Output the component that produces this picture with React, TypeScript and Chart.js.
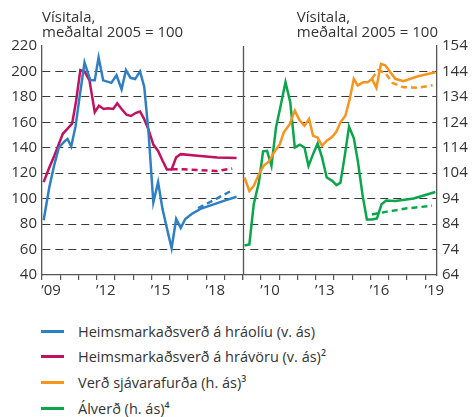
import React, { useEffect, useRef } from "react";
import { Chart, registerables } from "chart.js";

Chart.register(...registerables);

// ---------- data ----------
// Left panel (left axis): world oil price, world commodity price
const oilYears = [2009.09, 2009.4, 2009.68, 2009.92, 2010.23, 2010.4, 2010.6, 2010.84, 2011.06, 2011.33, 2011.65, 2011.89, 2012.1, 2012.35, 2012.8, 2013.08, 2013.36, 2013.6, 2013.85, 2014.1, 2014.37, 2014.6, 2014.83, 2015.1, 2015.36, 2015.6, 2015.84, 2016.1, 2016.35, 2016.6, 2016.85, 2017.2, 2017.68, 2018.4, 2019.0, 2019.66];
const oilValues = [83, 109, 127, 140, 145, 147, 141, 157, 180, 207, 193, 193, 211, 193, 191, 197, 186, 201, 195, 194, 200, 188, 153, 97, 113, 92, 77, 61, 84, 77, 84, 88, 92, 95.5, 98.5, 101.5];
const oilPrevYears = [2017.55, 2018.5, 2019.42];
const oilPrevValues = [92.5, 99.5, 106.6];

const comYears = [2009.09, 2009.4, 2009.68, 2010.14, 2010.4, 2010.65, 2010.87, 2011.1, 2011.33, 2011.6, 2011.89, 2012.12, 2012.38, 2012.6, 2012.9, 2013.12, 2013.36, 2013.63, 2013.87, 2014.15, 2014.37, 2014.6, 2014.83, 2015.1, 2015.36, 2015.6, 2015.84, 2016.1, 2016.35, 2016.6, 2017.68, 2018.6, 2019.66];
const comValues = [113, 124.5, 134, 151, 155, 159, 177, 201, 200, 193, 168, 173, 170.5, 171, 170.5, 175, 170.5, 166, 165, 167.5, 168.5, 162.5, 154.5, 142.5, 137.5, 130, 123, 123, 132.5, 135, 133.5, 132.4, 132];
const comPrevYears = [2016.1, 2016.76, 2017.68, 2018.6, 2019.42];
const comPrevValues = [123.2, 123.2, 122.4, 121.8, 123.7];

// Right panel (right axis): seafood prices, aluminium price
const seaYears = [2009.09, 2009.36, 2009.6, 2009.88, 2010.15, 2010.42, 2010.7, 2011.03, 2011.24, 2011.57, 2011.85, 2012.12, 2012.38, 2012.63, 2012.85, 2013.1, 2013.34, 2013.6, 2013.9, 2014.13, 2014.35, 2014.62, 2014.86, 2015.08, 2015.3, 2015.6, 2015.84, 2016.08, 2016.32, 2016.57, 2016.8, 2017.05, 2017.36, 2017.8, 2018.55, 2019.55];
const seaValues = [102.3, 97, 99, 103.6, 107, 108.5, 112, 115.4, 120, 123.3, 128.6, 124.7, 122.7, 125.3, 118.7, 118, 114.8, 116.8, 118.3, 120.4, 124, 126.6, 133.2, 141.1, 138.5, 139.8, 139.8, 141.1, 137.6, 147, 146.4, 144, 141.1, 140.2, 142, 143.7];
const seaPrevYears = [2016.08, 2016.4, 2016.8, 2017.2, 2017.8, 2018.6, 2019.4];
const seaPrevValues = [141.1, 144.5, 143.5, 139.5, 137.8, 137.6, 138.6];

const aluYears = [2009.09, 2009.36, 2009.6, 2009.88, 2010.11, 2010.33, 2010.57, 2010.82, 2011.06, 2011.34, 2011.6, 2011.85, 2012.12, 2012.38, 2012.6, 2012.85, 2013.1, 2013.34, 2013.6, 2013.9, 2014.13, 2014.35, 2014.6, 2014.82, 2015.08, 2015.3, 2015.57, 2015.8, 2016.08, 2016.35, 2016.6, 2016.86, 2017.36, 2018.36, 2019.55];
const aluValues = [75.6, 76, 91.8, 100.3, 112.6, 112.8, 106.9, 122, 130, 139.8, 131.9, 114.1, 115.2, 114.1, 106.9, 111.5, 115.7, 110.2, 102.3, 101, 99.3, 100.3, 111.5, 122.3, 117.8, 108.9, 95, 85.8, 85.8, 86.2, 91.8, 93.3, 93.1, 94.1, 96.6];
const aluPrevYears = [2016.08, 2016.9, 2018.0, 2019.37];
const aluPrevValues = [87.8, 88.9, 90.2, 91.2];

// tick labels
const leftTickYears = [2009, 2012, 2015, 2018];
const leftTickLabels = ["\u201909", "\u201912", "\u201915", "\u201918"];
const rightTickYears = [2010, 2013, 2016, 2019];
const rightTickLabels = ["\u201910", "\u201913", "\u201916", "\u201919"];

const legendNames = [
  "Heimsmarkaðsverð á hráolíu (v. ás)",
  "Heimsmarkaðsverð á hrávöru (v. ás)²",
  "Verð sjávarafurða (h. ás)³",
  "Álverð (h. ás)⁴",
];
const axisTitle = ["Vísitala,", "meðaltal 2005 = 100"];

const BLUE = "#2f7fc4";
const MAGENTA = "#c0125f";
const ORANGE = "#f7941d";
const GREEN = "#0ba54c";
const legendColors = [BLUE, MAGENTA, ORANGE, GREEN];

const FONT = "'Open Sans', 'Noto Sans', sans-serif";
const TEXT = "#333333";
const AXIS = "#555555";

const pts = (xs: number[], ys: number[]) => xs.map((x, i) => ({ x, y: ys[i] }));

export default function App() {
  const ref = useRef<HTMLCanvasElement | null>(null);

  useEffect(() => {
    if (!ref.current) return;
    const line = (data: any[], color: string, xAxisID: string, yAxisID: string, dashed: boolean) => ({
      data,
      borderColor: color,
      backgroundColor: color,
      borderWidth: 2.5,
      pointRadius: 0,
      tension: 0,
      fill: false,
      borderDash: dashed ? [6, 4] : [],
      xAxisID,
      yAxisID,
    });

    const divider = {
      id: "divider",
      beforeDatasetsDraw(chart: any) {
        const { ctx, chartArea } = chart;
        const xR = chart.scales.xR;
        ctx.save();
        ctx.strokeStyle = AXIS;
        ctx.lineWidth = 1.3;
        ctx.beginPath();
        const px = Math.round(xR.left) + 0.5;
        ctx.moveTo(px, chartArea.top);
        ctx.lineTo(px, chartArea.bottom);
        ctx.stroke();
        ctx.restore();
      },
    };

    const yearTicks = (s: any) => {
      const out: any[] = [];
      for (let y = Math.ceil(s.min); y <= Math.floor(s.max); y++) out.push({ value: y });
      s.ticks = out;
    };

    const xTickCfg = (years: number[], labels: string[]) => ({
      autoSkip: false,
      maxRotation: 0,
      labelOffset: 9,
      padding: 2,
      color: TEXT,
      font: { family: FONT, size: 15 },
      callback: (v: any) => {
        const i = years.indexOf(Number(v));
        return i >= 0 ? labels[i] : "";
      },
    });

    const chart = new Chart(ref.current, {
      type: "line",
      data: {
        datasets: [
          line(pts(oilPrevYears, oilPrevValues), BLUE, "xL", "yL", true),
          line(pts(comPrevYears, comPrevValues), MAGENTA, "xL", "yL", true),
          line(pts(oilYears, oilValues), BLUE, "xL", "yL", false),
          line(pts(comYears, comValues), MAGENTA, "xL", "yL", false),
          line(pts(seaPrevYears, seaPrevValues), ORANGE, "xR", "yR", true),
          line(pts(aluPrevYears, aluPrevValues), GREEN, "xR", "yR", true),
          line(pts(seaYears, seaValues), ORANGE, "xR", "yR", false),
          line(pts(aluYears, aluValues), GREEN, "xR", "yR", false),
        ] as any,
      },
      options: {
        animation: false,
        responsive: false,
        maintainAspectRatio: false,
        layout: { padding: { top: 46, left: 0, right: 0, bottom: 0 } },
        plugins: { legend: { display: false }, tooltip: { enabled: false }, title: { display: false } },
        scales: {
          xL: {
            type: "linear",
            position: "bottom",
            stack: "x",
            stackWeight: 11,
            min: 2009,
            max: 2020,
            grid: { drawOnChartArea: false, drawTicks: true, tickLength: 5, color: AXIS, lineWidth: 1.2 },
            border: { display: true, color: AXIS, width: 1.3 },
            ticks: xTickCfg(leftTickYears, leftTickLabels),
            afterBuildTicks: yearTicks,
            afterFit: (s: any) => { s.height = 25; },
          },
          xR: {
            type: "linear",
            position: "bottom",
            stack: "x",
            stackWeight: 10.64,
            min: 2009,
            max: 2019.64,
            grid: { drawOnChartArea: false, drawTicks: true, tickLength: 5, color: AXIS, lineWidth: 1.2 },
            border: { display: true, color: AXIS, width: 1.3 },
            ticks: xTickCfg(rightTickYears, rightTickLabels),
            afterBuildTicks: yearTicks,
            afterFit: (s: any) => { s.height = 25; },
          },
          yL: {
            type: "linear",
            position: "left",
            min: 40,
            max: 220,
            ticks: { stepSize: 20, padding: 5, color: TEXT, font: { family: FONT, size: 15 } },
            grid: {
              drawTicks: false,
              color: (c: any) => (c.tick && (c.tick.value === 220 || c.tick.value === 40) ? "rgba(0,0,0,0)" : "#3a3a3a"),
              lineWidth: 1,
            },
            border: { display: true, color: AXIS, width: 1.3, dash: [8, 5] } as any,
            afterFit: (s: any) => { s.width = 42; },
          },
          yR: {
            type: "linear",
            position: "right",
            min: 64,
            max: 154,
            ticks: { stepSize: 10, padding: 5, color: TEXT, font: { family: FONT, size: 15 } },
            grid: { display: false, drawTicks: false },
            border: { display: true, color: AXIS, width: 1.3 },
            afterFit: (s: any) => { s.width = 36; },
          },
        },
      } as any,
      plugins: [divider],
    });
    return () => chart.destroy();
  }, []);

  return (
    <div style={{ position: "absolute", left: 0, top: 0, width: 473, height: 417, background: "#fff", fontFamily: FONT, color: TEXT }}>
      <canvas ref={ref} width={473} height={300} style={{ position: "absolute", left: 0, top: 0, width: 473, height: 300 }} />
      <div style={{ position: "absolute", left: 42, top: 9, fontSize: 15, lineHeight: "15px", whiteSpace: "nowrap" }}>
        <div>{axisTitle[0]}</div>
        <div>{axisTitle[1]}</div>
      </div>
      <div style={{ position: "absolute", right: 473 - 438, top: 9, fontSize: 15, lineHeight: "15px", whiteSpace: "nowrap", textAlign: "left" }}>
        <div>{axisTitle[0]}</div>
        <div>{axisTitle[1]}</div>
      </div>
      {legendNames.map((name, i) => (
        <div key={name} style={{ position: "absolute", left: 41, top: 320 + i * 25.7, height: 22, display: "flex", alignItems: "center", whiteSpace: "nowrap" }}>
          <span style={{ display: "inline-block", width: 23, height: 3, background: legendColors[i], marginRight: 14 }} />
          <span style={{ fontSize: 14.5 }}>{name}</span>
        </div>
      ))}
    </div>
  );
}
